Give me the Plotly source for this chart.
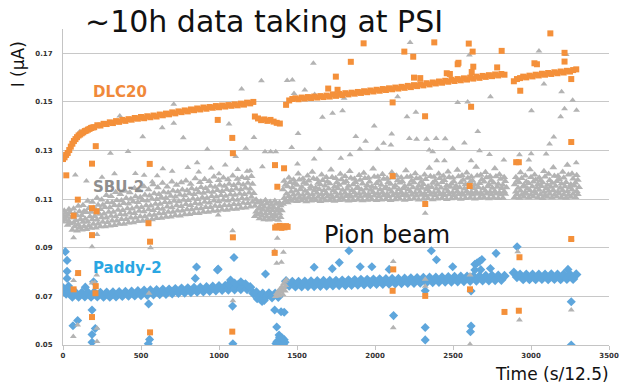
import plotly.graph_objects as go

# ---------------------------------------------------------------------------
# Beam-current readings I (uA) versus time (s/12.5) for three detectors.
# Dense stretches are stored as runs: (first time, time step, readings).
# Isolated readings are stored as (time, reading) pairs.
# ---------------------------------------------------------------------------

# DLC20 (orange squares)
DLC20_RISE = [0.1265, 0.1272, 0.1282, 0.1290, 0.1302, 0.1316, 0.1328, 0.1339, 0.1347, 0.1355,
              0.1362, 0.1366, 0.1371, 0.1375, 0.1380, 0.1382, 0.1386, 0.1389, 0.1393, 0.1395]
DLC20_PART1 = [0.1396, 0.1404, 0.1403, 0.1410, 0.1409, 0.1416, 0.1413, 0.1421, 0.1418, 0.1426,
               0.1422, 0.1429, 0.1427, 0.1434, 0.1431, 0.1438, 0.1433, 0.1441, 0.1437, 0.1444,
               0.1440, 0.1448, 0.1445, 0.1452, 0.1449, 0.1457, 0.1453, 0.1461, 0.1458, 0.1465,
               0.1461, 0.1469, 0.1466, 0.1473, 0.1469, 0.1477, 0.1472, 0.1479, 0.1476, 0.1483,
               0.1478, 0.1485, 0.1481, 0.1487, 0.1484, 0.1490, 0.1486, 0.1493, 0.1489, 0.1497,
               0.1494, 0.1500]
DLC20_DIP = [0.1440, 0.1432, 0.1425, 0.1428, 0.1422, 0.1426, 0.1419, 0.1414, 0.1411]
DLC20_LOW = [0.0983, 0.0988, 0.0985, 0.0990, 0.0982, 0.0987, 0.0984, 0.0989, 0.0986]
DLC20_PART2 = [0.1488, 0.1506, 0.1512, 0.1515, 0.1511, 0.1518, 0.1514, 0.1520, 0.1516, 0.1522,
               0.1518, 0.1524, 0.1520, 0.1526, 0.1522, 0.1531, 0.1525, 0.1533, 0.1528, 0.1536,
               0.1531, 0.1538, 0.1534, 0.1541, 0.1537, 0.1544, 0.1540, 0.1547, 0.1543, 0.1550,
               0.1546, 0.1553, 0.1549, 0.1556, 0.1552, 0.1559, 0.1555, 0.1562, 0.1558, 0.1566,
               0.1561, 0.1569, 0.1565, 0.1573, 0.1568, 0.1577, 0.1572, 0.1580, 0.1576, 0.1584,
               0.1579, 0.1587, 0.1583, 0.1591, 0.1586, 0.1594, 0.1589, 0.1597, 0.1592, 0.1600,
               0.1596, 0.1604, 0.1599, 0.1607, 0.1603, 0.1610, 0.1606, 0.1613, 0.1609, 0.1615,
               0.1612]
DLC20_PART3 = [0.1585, 0.1594, 0.1598, 0.1604, 0.1601, 0.1608, 0.1605, 0.1612, 0.1609, 0.1616,
               0.1612, 0.1619, 0.1615, 0.1622, 0.1618, 0.1625, 0.1621, 0.1628, 0.1625, 0.1631,
               0.1634]
DLC20_RUNS = [(0, 10, DLC20_RISE), (200, 20, DLC20_PART1), (1230, 20, DLC20_DIP),
              (1360, 10, DLC20_LOW), (1430, 20, DLC20_PART2), (2890, 20, DLC20_PART3)]
DLC20_STRAY = [
    (21, 0.1198), (68, 0.1032), (68, 0.0729), (95, 0.1098), (97, 0.0796), (186, 0.1246),
    (186, 0.1063), (186, 0.0952), (186, 0.0615), (208, 0.0713), (210, 0.1318), (210, 0.0742),
    (215, 0.1050), (548, 0.1001), (556, 0.1245), (558, 0.0925), (558, 0.0552), (992, 0.1426),
    (1085, 0.1352), (1085, 0.0555), (1089, 0.1289), (1089, 0.0943), (1357, 0.0879),
    (1359, 0.1240), (1374, 0.1151), (1417, 0.1227), (1700, 0.1555), (1749, 0.1604),
    (1760, 0.1550), (1845, 0.1665), (1927, 0.1741), (2113, 0.1498), (2113, 0.1195),
    (2113, 0.0723), (2117, 0.0811), (2188, 0.1707), (2245, 0.1686), (2250, 0.1600),
    (2290, 0.1598), (2321, 0.1441), (2322, 0.1080), (2322, 0.0702), (2380, 0.1745),
    (2460, 0.1618), (2480, 0.1615), (2530, 0.1655), (2535, 0.1661), (2601, 0.1740),
    (2607, 0.1154), (2609, 0.0729), (2616, 0.1480), (2620, 0.1623), (2626, 0.1707),
    (2630, 0.1645), (2783, 0.1642), (2812, 0.1710), (2830, 0.0636), (2905, 0.1252),
    (2922, 0.1252), (2922, 0.0641), (2926, 0.0861), (2931, 0.1546), (3022, 0.1659),
    (3038, 0.1655), (3124, 0.1782), (3215, 0.1702), (3215, 0.1666), (3258, 0.1594),
    (3258, 0.1335), (3258, 0.0936),
]

# SBU-2 (grey triangles): stacked rows of readings per stretch, 30 time units apart
SBU2_STARTS = [0, 1230, 1410, 2895]
SBU2_STEP = 30
SBU2_ROW_SHIFT = [0, 15, 8, 23, 0, 15, 8]
SBU2_ROW1 = [
    [0.1007, 0.0994, 0.0973, 0.0970, 0.0974, 0.0976, 0.0981, 0.0982, 0.0988, 0.0987,
     0.0991, 0.0993, 0.0998, 0.0998, 0.1003, 0.1004, 0.1009, 0.1010, 0.1015, 0.1016,
     0.1021, 0.1022, 0.1027, 0.1028, 0.1033, 0.1032, 0.1037, 0.1038, 0.1042, 0.1042,
     0.1047, 0.1047, 0.1051, 0.1052, 0.1056, 0.1055, 0.1060, 0.1059, 0.1064, 0.1065, 0.1069],
    [0.1030, 0.1020, 0.1016, 0.1015, 0.1017, 0.1014],
    [0.1080, 0.1086, 0.1092, 0.1091, 0.1094, 0.1090, 0.1093, 0.1095, 0.1091, 0.1094,
     0.1096, 0.1092, 0.1095, 0.1097, 0.1093, 0.1096, 0.1098, 0.1094, 0.1097, 0.1099,
     0.1095, 0.1098, 0.1100, 0.1096, 0.1099, 0.1101, 0.1097, 0.1100, 0.1102, 0.1098,
     0.1101, 0.1103, 0.1099, 0.1102, 0.1104, 0.1100, 0.1103, 0.1105, 0.1101, 0.1104,
     0.1106, 0.1102, 0.1105, 0.1107, 0.1103, 0.1106, 0.1104, 0.1105],
    [0.1108, 0.1105, 0.1109, 0.1106, 0.1110, 0.1107, 0.1104, 0.1109, 0.1106, 0.1110,
     0.1107, 0.1105, 0.1109, 0.1108],
]
SBU2_ROW1B = [
    [0.1014, 0.1000, 0.0988, 0.0983, 0.0989, 0.0991, 0.0998, 0.0999, 0.1006, 0.1005,
     0.1011, 0.1011, 0.1017, 0.1017, 0.1023, 0.1023, 0.1029, 0.1029, 0.1035, 0.1035,
     0.1041, 0.1042, 0.1047, 0.1047, 0.1052, 0.1052, 0.1057, 0.1057, 0.1062, 0.1062,
     0.1067, 0.1067, 0.1072, 0.1071, 0.1075, 0.1074, 0.1079, 0.1078, 0.1084, 0.1083, 0.1088],
    [0.1038, 0.1031, 0.1028, 0.1027, 0.1029, 0.1026],
    [0.1092, 0.1099, 0.1104, 0.1107, 0.1104, 0.1108, 0.1105, 0.1109, 0.1106, 0.1110,
     0.1107, 0.1111, 0.1108, 0.1112, 0.1109, 0.1113, 0.1110, 0.1113, 0.1110, 0.1114,
     0.1111, 0.1115, 0.1112, 0.1115, 0.1112, 0.1116, 0.1113, 0.1117, 0.1114, 0.1117,
     0.1114, 0.1118, 0.1115, 0.1119, 0.1116, 0.1119, 0.1116, 0.1120, 0.1117, 0.1121,
     0.1118, 0.1121, 0.1118, 0.1122, 0.1119, 0.1122, 0.1119, 0.1121],
    [0.1120, 0.1117, 0.1121, 0.1118, 0.1122, 0.1119, 0.1116, 0.1121, 0.1118, 0.1122,
     0.1119, 0.1117, 0.1121, 0.1120],
]
SBU2_ROW2 = [
    [0.1022, 0.1009, 0.1003, 0.0996, 0.1006, 0.1007, 0.1016, 0.1015, 0.1025, 0.1023,
     0.1031, 0.1029, 0.1038, 0.1036, 0.1044, 0.1042, 0.1051, 0.1049, 0.1057, 0.1054,
     0.1063, 0.1060, 0.1069, 0.1066, 0.1074, 0.1071, 0.1079, 0.1075, 0.1083, 0.1080,
     0.1088, 0.1085, 0.1093, 0.1090, 0.1097, 0.1093, 0.1100, 0.1097, 0.1104, 0.1101, 0.1109],
    [0.1048, 0.1043, 0.1040, 0.1042, 0.1038, 0.1041],
    [0.1105, 0.1112, 0.1118, 0.1121, 0.1117, 0.1123, 0.1119, 0.1125, 0.1120, 0.1124,
     0.1118, 0.1126, 0.1121, 0.1125, 0.1119, 0.1127, 0.1122, 0.1126, 0.1120, 0.1128,
     0.1123, 0.1127, 0.1121, 0.1129, 0.1124, 0.1128, 0.1122, 0.1130, 0.1125, 0.1129,
     0.1123, 0.1131, 0.1126, 0.1130, 0.1124, 0.1132, 0.1127, 0.1131, 0.1125, 0.1133,
     0.1128, 0.1132, 0.1126, 0.1134, 0.1129, 0.1133, 0.1127, 0.1131],
    [0.1130, 0.1135, 0.1128, 0.1136, 0.1131, 0.1138, 0.1129, 0.1134, 0.1137, 0.1130,
     0.1136, 0.1132, 0.1139, 0.1133],
]
SBU2_ROW2B = [
    [0.1027, 0.1025, 0.1012, 0.1017, 0.1018, 0.1029, 0.1030, 0.1039, 0.1040, 0.1047,
     0.1047, 0.1055, 0.1054, 0.1062, 0.1061, 0.1068, 0.1067, 0.1074, 0.1073, 0.1080,
     0.1080, 0.1087, 0.1085, 0.1092, 0.1090, 0.1097, 0.1095, 0.1102, 0.1100, 0.1107,
     0.1105, 0.1112, 0.1110, 0.1116, 0.1113, 0.1119, 0.1117, 0.1122, 0.1120, 0.1126, 0.1124],
    [0.1060, 0.1055, 0.1053, 0.1054, 0.1051, 0.1053],
    [0.1122, 0.1130, 0.1135, 0.1140, 0.1134, 0.1142, 0.1136, 0.1141, 0.1137, 0.1143,
     0.1136, 0.1144, 0.1138, 0.1142, 0.1137, 0.1145, 0.1139, 0.1143, 0.1138, 0.1146,
     0.1140, 0.1144, 0.1139, 0.1147, 0.1141, 0.1145, 0.1140, 0.1148, 0.1142, 0.1146,
     0.1141, 0.1149, 0.1143, 0.1147, 0.1142, 0.1150, 0.1144, 0.1148, 0.1143, 0.1151,
     0.1145, 0.1149, 0.1144, 0.1152, 0.1146, 0.1150, 0.1145, 0.1148],
    [0.1146, 0.1151, 0.1144, 0.1152, 0.1147, 0.1153, 0.1145, 0.1150, 0.1154, 0.1146,
     0.1152, 0.1148, 0.1155, 0.1149],
]
SBU2_ROW3 = [
    [0.1033, 0.1036, 0.1025, 0.1033, 0.1034, 0.1046, 0.1047, 0.1057, 0.1058, 0.1067,
     0.1066, 0.1075, 0.1074, 0.1083, 0.1081, 0.1089, 0.1087, 0.1095, 0.1093, 0.1101,
     0.1100, 0.1108, 0.1105, 0.1113, 0.1110, 0.1118, 0.1115, 0.1123, 0.1120, 0.1127,
     0.1125, 0.1132, 0.1129, 0.1137, 0.1133, 0.1140, 0.1137, 0.1143, 0.1140, 0.1146, 0.1143],
    [0.1072, 0.1066, 0.1068, 0.1064, 0.1067, 0.1063],
    [0.1140, 0.1152, 0.1148, 0.1158, 0.1150, 0.1162, 0.1153, 0.1147, 0.1160, 0.1155,
     0.1164, 0.1151, 0.1158, 0.1166, 0.1154, 0.1160, 0.1149, 0.1163, 0.1157, 0.1152,
     0.1165, 0.1158, 0.1150, 0.1162, 0.1156, 0.1167, 0.1153, 0.1160, 0.1168, 0.1155,
     0.1161, 0.1152, 0.1166, 0.1159, 0.1170, 0.1156, 0.1163, 0.1154, 0.1168, 0.1160,
     0.1171, 0.1158, 0.1165, 0.1172, 0.1160, 0.1167, 0.1162, 0.1158],
    [0.1160, 0.1168, 0.1157, 0.1165, 0.1172, 0.1161, 0.1169, 0.1158, 0.1166, 0.1174,
     0.1163, 0.1170, 0.1160, 0.1167],
]
SBU2_ROW3B = [
    [0.1043, 0.1046, 0.1040, 0.1049, 0.1050, 0.1063, 0.1064, 0.1076, 0.1076, 0.1087,
     0.1086, 0.1096, 0.1094, 0.1104, 0.1101, 0.1111, 0.1108, 0.1117, 0.1114, 0.1123,
     0.1120, 0.1129, 0.1126, 0.1135, 0.1131, 0.1139, 0.1136, 0.1144, 0.1140, 0.1149,
     0.1145, 0.1154, 0.1150, 0.1158, 0.1154, 0.1162, 0.1157, 0.1164, 0.1159, 0.1166, 0.1162],
    [0.1085, 0.1078, 0.1081, 0.1076, 0.1080, 0.1074],
    [0.1158, 0.1170, 0.1165, 0.1180, 0.1168, 0.1176, 0.1185, 0.1166, 0.1178, 0.1172,
     0.1190, 0.1169, 0.1181, 0.1174, 0.1187, 0.1170, 0.1179, 0.1186, 0.1172, 0.1192,
     0.1175, 0.1183, 0.1170, 0.1188, 0.1177, 0.1173, 0.1191, 0.1176, 0.1185, 0.1171,
     0.1182, 0.1194, 0.1175, 0.1186, 0.1178, 0.1190, 0.1173, 0.1193, 0.1179, 0.1187,
     0.1176, 0.1196, 0.1181, 0.1189, 0.1177, 0.1193, 0.1183, 0.1174],
    [0.1175, 0.1186, 0.1172, 0.1190, 0.1180, 0.1176, 0.1192, 0.1178, 0.1195, 0.1182,
     0.1188, 0.1200, 0.1184, 0.1179],
]
SBU2_ROW4 = [
    [0.1052, 0.1058, 0.1061, 0.1072, 0.1075, 0.1092, 0.1088, 0.1105, 0.1098, 0.1116,
     0.1112, 0.1128, 0.1120, 0.1134, 0.1127, 0.1145, 0.1136, 0.1152, 0.1140, 0.1160,
     0.1148, 0.1166, 0.1151, 0.1172, 0.1158, 0.1168, 0.1176, 0.1162, 0.1185, 0.1170,
     0.1182, 0.1174, 0.1192, 0.1178, 0.1188, 0.1181, 0.1196, 0.1183, 0.1190, 0.1186, 0.1194],
    [0.1098, 0.1090, 0.1095, 0.1088, 0.1092, 0.1085],
    [0.1175, 0.1188, 0.1180, 0.1205, 0.1184, 0.1196, 0.1212, 0.1182, 0.1200, 0.1190,
     0.1221, 0.1186, 0.1203, 0.1194, 0.1215, 0.1183, 0.1198, 0.1208, 0.1188, 0.1225,
     0.1192, 0.1202, 0.1185, 0.1210, 0.1196, 0.1189, 0.1218, 0.1193, 0.1206, 0.1187,
     0.1200, 0.1228, 0.1191, 0.1204, 0.1195, 0.1213, 0.1188, 0.1220, 0.1197, 0.1209,
     0.1192, 0.1232, 0.1199, 0.1211, 0.1194, 0.1226, 0.1201, 0.1190],
    [0.1190, 0.1210, 0.1196, 0.1222, 0.1200, 0.1188, 0.1215, 0.1203, 0.1230, 0.1195,
     0.1212, 0.1240, 0.1205, 0.1198],
]
SBU2_ROWS = [SBU2_ROW1, SBU2_ROW1B, SBU2_ROW2, SBU2_ROW2B, SBU2_ROW3, SBU2_ROW3B, SBU2_ROW4]
SBU2_STRAY = [
    (79, 0.1199), (107, 0.1377), (150, 0.1175), (250, 0.1190), (304, 0.1289), (330, 0.1205),
    (364, 0.1442), (417, 0.1296), (464, 0.1206), (511, 0.1357), (520, 0.1198), (572, 0.1172),
    (604, 0.1196), (636, 0.1394), (640, 0.1225), (700, 0.1215), (710, 0.1490), (710, 0.1412),
    (771, 0.1353), (800, 0.1230), (860, 0.1250), (870, 0.1212), (925, 0.1305), (950, 0.1228),
    (1000, 0.1205), (1040, 0.1240), (1064, 0.1409), (1107, 0.1275), (1120, 0.1222),
    (1145, 0.1553), (1171, 0.1309), (1180, 0.1215), (1199, 0.1217), (1224, 0.1354),
    (1272, 0.1587), (1278, 0.1233), (1295, 0.1295), (1331, 0.1295), (1364, 0.1295),
    (1437, 0.1588), (1466, 0.1313), (1470, 0.1590), (1481, 0.1535), (1503, 0.1245),
    (1507, 0.1370), (1550, 0.1549), (1605, 0.1659), (1610, 0.1265), (1613, 0.1531),
    (1646, 0.1305), (1663, 0.1437), (1728, 0.1453), (1781, 0.1268), (1792, 0.1464),
    (1802, 0.1515), (1840, 0.1283), (1877, 0.1358), (1903, 0.1305), (1940, 0.1338),
    (1995, 0.1401), (2016, 0.1305), (2055, 0.1330), (2102, 0.1323), (2107, 0.1368),
    (2145, 0.1521), (2205, 0.1439), (2220, 0.1350), (2225, 0.1744), (2262, 0.1458),
    (2267, 0.1346), (2331, 0.1346), (2348, 0.1302), (2370, 0.1295), (2392, 0.1350),
    (2396, 0.1258), (2445, 0.1258), (2450, 0.1348), (2498, 0.1308), (2530, 0.1498),
    (2573, 0.1331), (2594, 0.1500), (2605, 0.1693), (2616, 0.1258), (2659, 0.1378),
    (2670, 0.1299), (2734, 0.1284), (2740, 0.1521), (2826, 0.1261), (2926, 0.1283),
    (2986, 0.1261), (3001, 0.1287), (3003, 0.1464), (3051, 0.1709), (3083, 0.1574),
    (3097, 0.1286), (3119, 0.1327), (3146, 0.1356), (3190, 0.1439), (3196, 0.1542),
    (3215, 0.1472), (3226, 0.1695), (3267, 0.1507), (3290, 0.1250), (3292, 0.1466),
    (66, 0.0535), (68, 0.0941), (68, 0.0765), (94, 0.0792), (94, 0.0582), (186, 0.0904),
    (186, 0.0755), (203, 0.0757), (216, 0.0788), (218, 0.0955), (218, 0.0569), (218, 0.0514),
    (551, 0.0713), (561, 0.0900), (995, 0.1035), (1087, 0.0970), (1089, 0.0682),
    (1357, 0.0887), (1370, 0.0836), (1374, 0.0939), (1400, 0.0840), (1413, 0.0882),
    (2117, 0.0843), (2117, 0.0571), (2322, 0.1042), (2322, 0.0770), (2322, 0.0742),
    (2609, 0.0788), (2609, 0.0503), (2915, 0.0884), (2926, 0.0603), (3258, 0.0644),
    (3258, 0.0936),
    (1362, 0.0700), (1368, 0.0712), (1375, 0.0706), (1380, 0.0722), (1386, 0.0714),
    (1392, 0.0731), (1397, 0.0720), (1402, 0.0740), (1408, 0.0728), (1413, 0.0752),
    (1418, 0.0737), (1423, 0.0762), (1428, 0.0745), (1432, 0.0768), (1390, 0.0702),
    (1410, 0.0708), (1425, 0.0722),
]

# Paddy-2 (blue diamonds)
PADDY2_PART1 = [0.0734, 0.0712, 0.0719, 0.0699, 0.0715, 0.0699, 0.0714, 0.0700, 0.0715, 0.0699,
                0.0716, 0.0700, 0.0714, 0.0699, 0.0715, 0.0699, 0.0716, 0.0700, 0.0717, 0.0702,
                0.0718, 0.0703, 0.0719, 0.0704, 0.0721, 0.0706, 0.0723, 0.0707, 0.0724, 0.0709,
                0.0725, 0.0710, 0.0727, 0.0711, 0.0728, 0.0713, 0.0730, 0.0715, 0.0732, 0.0716,
                0.0733, 0.0718, 0.0735, 0.0720, 0.0736, 0.0721, 0.0738, 0.0723, 0.0740, 0.0725,
                0.0742, 0.0727, 0.0743, 0.0728, 0.0744, 0.0729, 0.0745, 0.0730, 0.0746, 0.0730,
                0.0738, 0.0713, 0.0716, 0.0697, 0.0711, 0.0697, 0.0712, 0.0696, 0.0711, 0.0698]
PADDY2_PART2 = [0.0762, 0.0745, 0.0759, 0.0741, 0.0759, 0.0742, 0.0760, 0.0743, 0.0761, 0.0743,
                0.0762, 0.0744, 0.0763, 0.0745, 0.0763, 0.0746, 0.0764, 0.0747, 0.0765, 0.0747,
                0.0766, 0.0748, 0.0767, 0.0749, 0.0768, 0.0750, 0.0768, 0.0751, 0.0769, 0.0752,
                0.0770, 0.0752, 0.0771, 0.0753, 0.0772, 0.0754, 0.0772, 0.0755, 0.0773, 0.0756,
                0.0774, 0.0756, 0.0775, 0.0757, 0.0776, 0.0758, 0.0777, 0.0759, 0.0777, 0.0760,
                0.0778, 0.0761, 0.0779, 0.0761, 0.0780, 0.0762, 0.0781, 0.0763, 0.0781, 0.0764,
                0.0782, 0.0765, 0.0783, 0.0766, 0.0784, 0.0766, 0.0785, 0.0767, 0.0785, 0.0768,
                0.0784]
PADDY2_PART3 = [0.0797, 0.0780, 0.0789, 0.0771, 0.0789, 0.0771, 0.0789, 0.0771, 0.0789, 0.0772,
                0.0789, 0.0771, 0.0790, 0.0772, 0.0789, 0.0771, 0.0790, 0.0772, 0.0789, 0.0772,
                0.0790]
PADDY2_RUNS = [(0, 20, PADDY2_PART1), (1430, 20, PADDY2_PART2), (2890, 20, PADDY2_PART3)]
PADDY2_STRAY = [
    (15, 0.0884), (26, 0.0848), (26, 0.0803), (26, 0.0774), (36, 0.0743), (64, 0.0579),
    (94, 0.0601), (143, 0.0738), (186, 0.0644), (186, 0.0543), (186, 0.0511), (196, 0.0760),
    (207, 0.0568), (547, 0.0505), (549, 0.0669), (555, 0.0523), (848, 0.0774), (856, 0.0821),
    (990, 0.0809), (995, 0.0812), (1060, 0.0750), (1074, 0.0767), (1087, 0.0660),
    (1089, 0.0505), (1096, 0.0860), (1100, 0.0755), (1140, 0.0760), (1170, 0.0752),
    (1245, 0.0690), (1270, 0.0686), (1276, 0.0679), (1290, 0.0683), (1298, 0.0792),
    (1357, 0.0644), (1370, 0.0574), (1385, 0.0541), (1398, 0.0637), (1418, 0.0635),
    (1365, 0.0506), (1372, 0.0514), (1378, 0.0502), (1384, 0.0520), (1390, 0.0509),
    (1396, 0.0527), (1401, 0.0504), (1407, 0.0517), (1412, 0.0508), (1418, 0.0522),
    (1423, 0.0511), (1388, 0.0532), (1403, 0.0530), (1415, 0.0500),
    (1610, 0.0820), (1726, 0.0814), (1771, 0.0839), (1833, 0.0888), (1905, 0.0822),
    (1980, 0.0822), (2091, 0.0811), (2119, 0.0621), (2322, 0.0723), (2322, 0.0572),
    (2322, 0.0521), (2361, 0.0888), (2394, 0.0851), (2498, 0.0822), (2612, 0.0555),
    (2616, 0.0722), (2616, 0.0578), (2640, 0.0832), (2640, 0.0809), (2655, 0.0838),
    (2670, 0.0844), (2678, 0.0810), (2685, 0.0852), (2740, 0.0815), (2776, 0.0877),
    (2911, 0.0904), (3237, 0.0811), (3258, 0.0678), (3258, 0.0500),
]

# Axis ticks
X_TICKS = [0, 500, 1000, 1500, 2000, 2500, 3000, 3500]
Y_TICKS = [0.05, 0.07, 0.09, 0.11, 0.13, 0.15, 0.17]
Y_TICK_TEXT = ["0.05", "0.07", "0.09", "0.11", "0.13", "0.15", "0.17"]


def expand_runs(runs):
    t, i = [], []
    for start, step, vals in runs:
        for k, v in enumerate(vals):
            t.append(start + k * step)
            i.append(v)
    return t, i


def split_pairs(pairs):
    return [p[0] for p in pairs], [p[1] for p in pairs]


def sbu2_runs(rows):
    runs = []
    for row, shift in zip(rows, SBU2_ROW_SHIFT):
        for start, vals in zip(SBU2_STARTS, row):
            runs.append((start + shift, SBU2_STEP, vals))
    return runs


ORANGE = "#F4903A"
GREY = "#B3B3B3"
BLUE = "#5EA6DC"

fig = go.Figure()


def add_series(t, i, symbol, size, color, name):
    fig.add_trace(go.Scatter(x=t, y=i, mode="markers", name=name, hoverinfo="x+y",
                             marker=dict(symbol=symbol, size=size, color=color,
                                         line=dict(width=0))))


# Paddy-2 underneath, then SBU-2, DLC20 on top
add_series(*expand_runs(PADDY2_RUNS), "diamond", 8, BLUE, "Paddy-2")
add_series(*split_pairs(PADDY2_STRAY), "diamond", 7, BLUE, "Paddy-2")
add_series(*expand_runs(sbu2_runs(SBU2_ROWS)), "triangle-up", 7, GREY, "SBU-2")
add_series(*split_pairs(SBU2_STRAY), "triangle-up", 6, GREY, "SBU-2")
add_series(*expand_runs(DLC20_RUNS), "square", 6, ORANGE, "DLC20")
add_series(*split_pairs(DLC20_STRAY), "square", 6, ORANGE, "DLC20")

tick_font = dict(family="DejaVu Sans", size=7, color="#333333", weight="bold")

fig.update_layout(
    width=620, height=384,
    margin=dict(l=63, r=11, t=29, b=39),
    paper_bgcolor="white", plot_bgcolor="white",
    showlegend=False,
    xaxis=dict(range=[0, 3500], tickvals=X_TICKS, showgrid=False, zeroline=False,
               automargin=False, showline=True, linecolor="#C4C4C4", linewidth=1,
               ticks="outside", ticklen=4, tickcolor="#C4C4C4", tickfont=tick_font),
    yaxis=dict(range=[0.05, 0.18], tickvals=Y_TICKS, ticktext=Y_TICK_TEXT,
               showgrid=True, gridcolor="#C8C8C8", gridwidth=1, zeroline=False,
               automargin=False, showline=True, linecolor="#C4C4C4", linewidth=1,
               ticks="", ticklabelstandoff=8, tickfont=tick_font),
)

annotations = [
    dict(text="~10h data taking at PSI", xref="paper", yref="paper", x=0.037, y=1.023,
         xanchor="left", yanchor="middle", showarrow=False,
         font=dict(family="DejaVu Sans", size=30, color="#111111")),
    dict(text="I (μA)", xref="paper", yref="paper", x=-0.082, y=0.889, textangle=-90,
         xanchor="center", yanchor="middle", showarrow=False,
         font=dict(family="DejaVu Sans", size=17, color="#111111")),
    dict(text="Time (s/12.5)", xref="paper", yref="paper", x=1.003, y=-0.092,
         xanchor="right", yanchor="middle", showarrow=False,
         font=dict(family="DejaVu Sans", size=17, color="#111111")),
    dict(text="Pion beam", x=1660, y=0.0953, xanchor="left", yanchor="middle", showarrow=False,
         font=dict(family="DejaVu Sans", size=24, color="#111111")),
    dict(text="DLC20", x=180, y=0.1542, xanchor="left", yanchor="middle", showarrow=False,
         font=dict(family="DejaVu Sans", size=15, color="#F0893A", weight="bold")),
    dict(text="SBU-2", x=180, y=0.1152, xanchor="left", yanchor="middle", showarrow=False,
         font=dict(family="DejaVu Sans", size=15, color="#8E8E8E", weight="bold")),
    dict(text="Paddy-2", x=180, y=0.0818, xanchor="left", yanchor="middle", showarrow=False,
         font=dict(family="DejaVu Sans", size=15, color="#2AA6E2", weight="bold")),
]
fig.update_layout(annotations=annotations)

fig.write_html("out.html")
